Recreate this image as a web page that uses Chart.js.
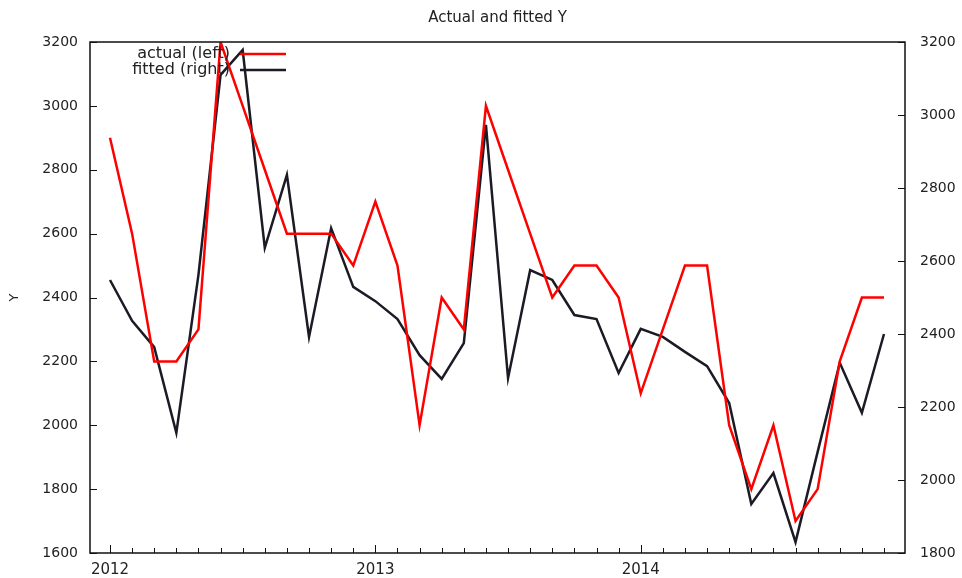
<!DOCTYPE html>
<html>
<head>
<meta charset="utf-8">
<script src="https://cdn.jsdelivr.net/npm/chart.js@4"></script>
<style>
  body { margin: 0; background: #fff; }
  #wrap { width: 962px; height: 578px; }
</style>
</head>
<body>
<div id="wrap"><canvas id="chart" width="962" height="578"></canvas></div>
<script>
// --- data (monthly, Jan 2012 .. Dec 2014) ---
const months = [
  "2012-01","2012-02","2012-03","2012-04","2012-05","2012-06","2012-07","2012-08","2012-09","2012-10","2012-11","2012-12",
  "2013-01","2013-02","2013-03","2013-04","2013-05","2013-06","2013-07","2013-08","2013-09","2013-10","2013-11","2013-12",
  "2014-01","2014-02","2014-03","2014-04","2014-05","2014-06","2014-07","2014-08","2014-09","2014-10","2014-11","2014-12"
];
const actual = [
  2900, 2600, 2200, 2200, 2300, 3200, 3000, 2800, 2600, 2600, 2600, 2500,
  2700, 2500, 2000, 2400, 2300, 3000, 2800, 2600, 2400, 2500, 2500, 2400,
  2100, 2300, 2500, 2500, 2000, 1800, 2000, 1700, 1800, 2200, 2400, 2400
];
const fitted = [
  2548, 2436, 2364, 2129, 2562, 3110, 3178, 2636, 2836, 2392, 2690, 2529,
  2490, 2441, 2342, 2277, 2375, 2973, 2279, 2575, 2548, 2452, 2441, 2293,
  2414, 2392, 2351, 2312, 2211, 1934, 2019, 1830, 2077, 2321, 2184, 2400
];
const yearTicks = [0, 12, 24];
const yearLabels = ["2012", "2013", "2014"];
const leftTicks = [1600, 1800, 2000, 2200, 2400, 2600, 2800, 3000, 3200];
const rightTicks = [1800, 2000, 2200, 2400, 2600, 2800, 3000, 3200];

const FONT = "'DejaVu Sans', Verdana, sans-serif";
const RED = "#ff0000";
const DARK = "#1b1b26";

// frame + inward ticks (gnuplot look)
const framePlugin = {
  id: "frame",
  afterDatasetsDraw(chart) {
    const {ctx, chartArea: a, scales} = chart;
    ctx.save();
    ctx.strokeStyle = "#111";
    ctx.lineWidth = 1.5;
    ctx.strokeRect(a.left, a.top, a.right - a.left, a.bottom - a.top);
    ctx.lineWidth = 1;
    // month ticks on bottom
    months.forEach((m, i) => {
      const x = Math.round(scales.x.getPixelForValue(i)) + 0.5;
      const len = (i % 12 === 0) ? 8 : 5;
      ctx.beginPath(); ctx.moveTo(x, a.bottom); ctx.lineTo(x, a.bottom - len); ctx.stroke();
    });
    leftTicks.forEach(v => {
      const y = Math.round(scales.y.getPixelForValue(v)) + 0.5;
      ctx.beginPath(); ctx.moveTo(a.left, y); ctx.lineTo(a.left + 7, y); ctx.stroke();
    });
    rightTicks.forEach(v => {
      const y = Math.round(scales.y1.getPixelForValue(v)) + 0.5;
      ctx.beginPath(); ctx.moveTo(a.right, y); ctx.lineTo(a.right - 7, y); ctx.stroke();
    });
    ctx.restore();
  }
};

// legend: text right aligned, line sample to the right
const keyPlugin = {
  id: "key",
  afterDraw(chart) {
    const {ctx} = chart;
    const items = [
      {text: "actual (left)", color: RED, y: 54},
      {text: "fitted (right)", color: DARK, y: 70}
    ];
    ctx.save();
    ctx.font = "16px " + FONT;
    ctx.textAlign = "right";
    ctx.textBaseline = "middle";
    items.forEach(it => {
      ctx.fillStyle = "#222";
      ctx.fillText(it.text, 230, it.y);
      ctx.strokeStyle = it.color;
      ctx.lineWidth = 2.5;
      ctx.beginPath(); ctx.moveTo(240, it.y); ctx.lineTo(286, it.y); ctx.stroke();
    });
    ctx.restore();
  }
};

new Chart(document.getElementById("chart"), {
  type: "line",
  data: {
    datasets: [
      {
        label: "actual (left)",
        data: actual.map((v, i) => ({x: i, y: v})),
        yAxisID: "y",
        borderColor: RED,
        borderWidth: 2.5,
        pointRadius: 0,
        tension: 0,
        fill: false
      },
      {
        label: "fitted (right)",
        data: fitted.map((v, i) => ({x: i, y: v})),
        yAxisID: "y1",
        borderColor: DARK,
        borderWidth: 2.5,
        pointRadius: 0,
        tension: 0,
        fill: false
      }
    ]
  },
  options: {
    responsive: false,
    animation: false,
    devicePixelRatio: 1,
    layout: {padding: 0},
    plugins: {
      legend: {display: false},
      tooltip: {enabled: false},
      title: {
        display: true,
        fullSize: false,
        text: "Actual and fitted Y",
        color: "#222",
        font: {family: FONT, size: 15, weight: "normal"},
        padding: {top: 9, bottom: 15}
      }
    },
    scales: {
      x: {
        type: "linear",
        min: -0.904,
        max: 35.95,
        grid: {display: false, drawTicks: false},
        border: {display: false},
        afterBuildTicks: s => { s.ticks = yearTicks.map(v => ({value: v})); },
        afterFit: s => { s.height = 25; },
        ticks: {
          color: "#222",
          font: {family: FONT, size: 15},
          padding: 8,
          maxRotation: 0,
          autoSkip: false,
          callback: v => yearLabels[yearTicks.indexOf(v)]
        }
      },
      y: {
        position: "left",
        min: 1600,
        max: 3200,
        grid: {display: false, drawTicks: false},
        border: {display: false},
        afterBuildTicks: s => { s.ticks = leftTicks.map(v => ({value: v})); },
        afterFit: s => { s.width = 90; },
        title: {
          display: true,
          text: "Y",
          color: "#222",
          font: {family: FONT, size: 13},
          padding: {top: 7, bottom: 0}
        },
        ticks: {color: "#222", font: {family: FONT, size: 14}, padding: 12, callback: v => String(v)}
      },
      y1: {
        position: "right",
        min: 1800,
        max: 3200,
        grid: {display: false, drawTicks: false},
        border: {display: false},
        afterBuildTicks: s => { s.ticks = rightTicks.map(v => ({value: v})); },
        afterFit: s => { s.width = 57; },
        ticks: {color: "#222", font: {family: FONT, size: 14}, padding: 15, callback: v => String(v)}
      }
    }
  },
  plugins: [framePlugin, keyPlugin]
});
</script>
</body>
</html>
